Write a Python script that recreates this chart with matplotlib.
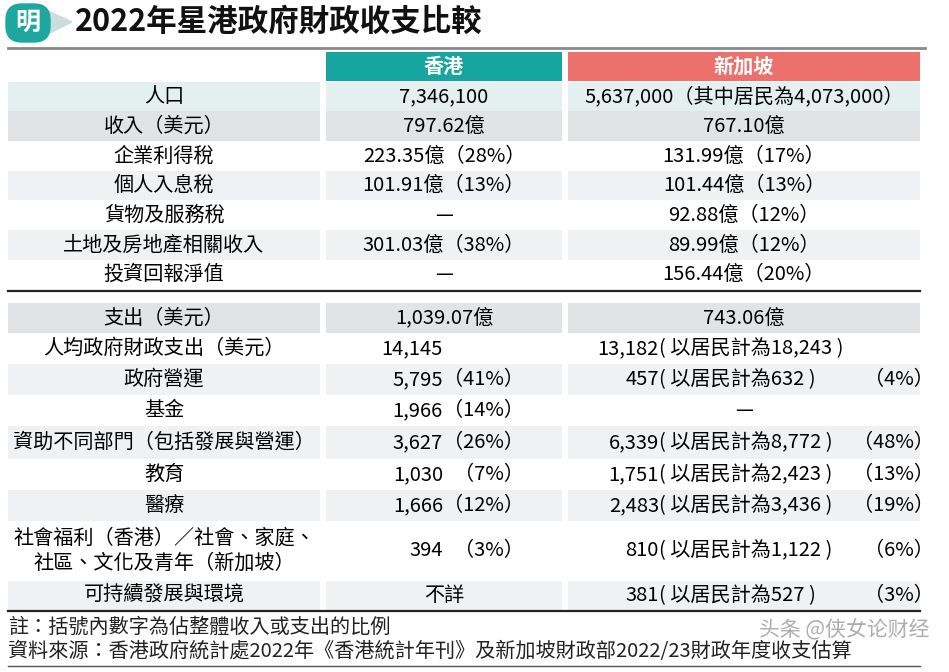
import matplotlib.pyplot as plt
from matplotlib.patches import Rectangle, FancyBboxPatch, Polygon

plt.rcParams['font.family'] = ['Noto Sans CJK TC', 'DejaVu Sans']

# ---- data ----
title = "2022年星港政府財政收支比較"
col_heads = ["香港", "新加坡"]

inc_labels = ["人口", "收入（美元）", "企業利得稅", "個人入息稅", "貨物及服務稅",
              "土地及房地產相關收入", "投資回報淨值"]
inc_hk = ["7,346,100", "797.62億", "223.35億（28%）", "101.91億（13%）", "—",
          "301.03億（38%）", "—"]
inc_sg = ["5,637,000（其中居民為4,073,000）", "767.10億", "131.99億（17%）",
          "101.44億（13%）", "92.88億（12%）", "89.99億（12%）", "156.44億（20%）"]

exp_labels = ["支出（美元）", "人均政府財政支出（美元）", "政府營運", "基金",
              "資助不同部門（包括發展與營運）", "教育", "醫療",
              "社會福利（香港）／社會、家庭、\n社區、文化及青年（新加坡）",
              "可持續發展與環境"]
exp_hk_num = ["1,039.07億", "14,145", "5,795", "1,966", "3,627", "1,030", "1,666", "394", "不詳"]
exp_hk_pct = ["", "", "（41%）", "（14%）", "（26%）", "（7%）", "（12%）", "（3%）", ""]
exp_sg_num = ["743.06億", "13,182", "457", "—", "6,339", "1,751", "2,483", "810", "381"]
exp_sg_res = ["", "( 以居民計為18,243 )", "( 以居民計為632 )", "", "( 以居民計為8,772 )",
              "( 以居民計為2,423 )", "( 以居民計為3,436 )", "( 以居民計為1,122 )",
              "( 以居民計為527 )"]
exp_sg_pct = ["", "", "（4%）", "", "（48%）", "（13%）", "（19%）", "（6%）", "（3%）"]

notes = ["註：括號內數字為佔整體收入或支出的比例",
         "資料來源：香港政府統計處2022年《香港統計年刊》及新加坡財政部2022/23財政年度收支估算"]

# ---- layout (pixel coords) ----
W, H = 949, 672
cols = [(8, 320), (326, 562), (568, 920)]
inc_edges = [82, 111, 141, 171, 200, 230, 260, 289]
exp_edges = [303, 333, 364, 395, 426, 459, 490, 521, 581, 610]
inc_shade = ["#e4eff0", "#e2e3e5", "white", "#f0f1f3", "white", "#f0f1f3", "white"]
exp_shade = ["#e2e3e5", "white", "#f0f1f3", "white", "#f0f1f3", "white", "#f0f1f3", "white", "#f0f1f3"]
FS = 14.5

fig = plt.figure(figsize=(9.49, 6.72), dpi=100)
ax = fig.add_axes([0, 0, 1, 1])
ax.set_xlim(0, W)
ax.set_ylim(H, 0)
ax.axis('off')

# logo + title
ax.add_patch(Polygon([(42, 8), (72, 22), (42, 37)], closed=True, color="#c9dedd", zorder=1))
ax.add_patch(FancyBboxPatch((6, 4), 44, 38, boxstyle="round,pad=0,rounding_size=16",
                            color="#1ea79f", zorder=2))
ax.text(28, 23, "明", color="white", fontsize=18, fontweight="bold", style="italic",
        ha="center", va="center", zorder=3)
ax.text(75, 22, title, fontsize=22, fontweight="bold", ha="left", va="center", color="#111111")
ax.plot([8, 925], [48, 48], color="#8a8a8a", lw=2)

# column headers
head_colors = ["#17a69f", "#ec716c"]
for (x0, x1), name, c in zip(cols[1:], col_heads, head_colors):
    ax.add_patch(Rectangle((x0, 52), x1 - x0, 29, color=c, lw=0))
    ax.text((x0 + x1) / 2, 66.5, name, color="white", fontsize=14.5, fontweight="bold",
            ha="center", va="center")


def shade_row(y0, y1, color):
    if color == "white":
        return
    for x0, x1 in cols:
        ax.add_patch(Rectangle((x0, y0), x1 - x0, y1 - y0, color=color, lw=0, zorder=0))


def cx(i):
    return (cols[i][0] + cols[i][1]) / 2


# income block
for i, lab in enumerate(inc_labels):
    y0, y1 = inc_edges[i], inc_edges[i + 1]
    yc = (y0 + y1) / 2
    shade_row(y0, y1, inc_shade[i])
    ax.text(cx(0), yc, lab, fontsize=FS, ha="center", va="center")
    ax.text(cx(1), yc, inc_hk[i], fontsize=FS, ha="center", va="center")
    ax.text(cx(2), yc, inc_sg[i], fontsize=FS, ha="center", va="center")

ax.plot([8, 920], [290.5, 290.5], color="#222222", lw=1.6)

# expenditure block
for i, lab in enumerate(exp_labels):
    y0, y1 = exp_edges[i], exp_edges[i + 1]
    yc = (y0 + y1) / 2
    shade_row(y0, y1, exp_shade[i])
    ax.text(cx(0), yc, lab, fontsize=FS, ha="center", va="center", linespacing=1.25)
    # Hong Kong
    if i == 0 or exp_hk_num[i] in ("—", "不詳"):
        ax.text(cx(1), yc, exp_hk_num[i], fontsize=FS, ha="center", va="center")
    else:
        ax.text(443, yc, exp_hk_num[i], fontsize=FS, ha="right", va="center")
        if exp_hk_pct[i]:
            ax.text(524, yc, exp_hk_pct[i], fontsize=FS, ha="right", va="center")
    # Singapore
    if i == 0 or exp_sg_num[i] == "—":
        ax.text(cx(2), yc, exp_sg_num[i], fontsize=FS, ha="center", va="center")
    else:
        ax.text(659, yc, exp_sg_num[i], fontsize=FS, ha="right", va="center")
        ax.text(659, yc, exp_sg_res[i], fontsize=FS, ha="left", va="center")
        if exp_sg_pct[i]:
            ax.text(934, yc, exp_sg_pct[i], fontsize=FS, ha="right", va="center")

ax.plot([8, 920], [611, 611], color="#222222", lw=1.6)

# notes
ax.text(8, 627, notes[0], fontsize=FS, ha="left", va="center", color="#222222")
ax.text(8, 652, notes[1], fontsize=FS, ha="left", va="center", color="#222222")
ax.plot([8, 920], [666, 666], color="#555555", lw=1)

# watermark
ax.text(930, 629, "头条 @侠女论财经", fontsize=15, ha="right", va="center",
        color="#9a9a9a", alpha=0.8)

fig.savefig("out.png", dpi=100)
